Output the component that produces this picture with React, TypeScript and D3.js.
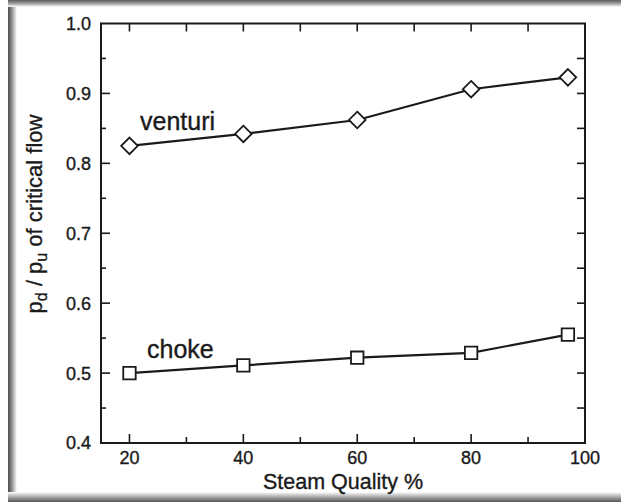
import React from "react";
import * as d3 from "d3";

const quality = [20, 40, 60, 80, 97];
const venturi = [0.825, 0.842, 0.862, 0.906, 0.923];
const choke = [0.5, 0.511, 0.522, 0.529, 0.555];
const xTickLabels = [20, 40, 60, 80, 100];
const xMinorTicks = [20, 30, 40, 50, 60, 70, 80, 90];
const yTickLabels = [0.4, 0.5, 0.6, 0.7, 0.8, 0.9, 1.0];
const yMinorTicks = [0.45, 0.5, 0.55, 0.6, 0.65, 0.7, 0.75, 0.8, 0.85, 0.9, 0.95];
const seriesNames = ["venturi", "choke"];

const W = 621;
const H = 502;
const FONT = "'Liberation Sans', Arial, Helvetica, sans-serif";
const INK = "#1a1a1a";

export default function App() {
  const x = d3.scaleLinear().domain([15, 100]).range([101, 585]);
  const y = d3.scaleLinear().domain([0.4, 1.0]).range([443, 23.5]);
  const line = d3
    .line<number>()
    .x((_, i) => x(quality[i]))
    .y((d) => y(d));

  const diamond = d3.symbol().type(d3.symbolDiamond2).size(175)();
  const square = d3.symbol().type(d3.symbolSquare).size(155)();

  const [x0, x1] = x.range();
  const [y0, y1] = y.range();
  const textStroke = { stroke: INK, strokeWidth: 0.35 };

  return (
    <svg
      width={W}
      height={H}
      style={{ position: "absolute", left: 0, top: 0, background: "#fff" }}
      fontFamily={FONT}
    >
      <defs>
        <linearGradient id="gl" x1="0" x2="1" y1="0" y2="0">
          <stop offset="0" stopColor="#4a4a4a" />
          <stop offset="0.4" stopColor="#8a8a8a" />
          <stop offset="1" stopColor="#ffffff" />
        </linearGradient>
        <linearGradient id="gt" x1="0" x2="0" y1="0" y2="1">
          <stop offset="0" stopColor="#5a5a5a" />
          <stop offset="0.5" stopColor="#a0a0a0" />
          <stop offset="1" stopColor="#ffffff" />
        </linearGradient>
        <linearGradient id="gb" x1="0" x2="0" y1="0" y2="1">
          <stop offset="0" stopColor="#ffffff" />
          <stop offset="0.5" stopColor="#a8a8a8" />
          <stop offset="1" stopColor="#555555" />
        </linearGradient>
      </defs>
      <rect x={0} y={0} width={W} height={H} fill="#fff" />
      <rect x={8} y={0} width={9} height={H} fill="url(#gl)" />
      <rect x={8} y={0} width={W - 8} height={7} fill="url(#gt)" />
      <rect x={8} y={492} width={W - 8} height={10} fill="url(#gb)" />

      {/* frame */}
      <rect
        x={x0}
        y={y1}
        width={x1 - x0}
        height={y0 - y1}
        fill="none"
        stroke={INK}
        strokeWidth={2}
      />

      {/* bottom & top ticks */}
      {xMinorTicks.map((t) => {
        const major = t % 20 === 0;
        return (
          <g key={"xt" + t}>
            <line x1={x(t)} x2={x(t)} y1={y0} y2={y0 - (major ? 9 : 6)} stroke={INK} strokeWidth={1.6} />
            <line x1={x(t)} x2={x(t)} y1={y1} y2={y1 + 8} stroke={INK} strokeWidth={1.6} />
          </g>
        );
      })}
      {/* left & right ticks */}
      {yMinorTicks.map((t) => {
        const major = Math.abs(Math.round(t * 10) - t * 10) < 1e-6;
        return (
          <g key={"yt" + t}>
            <line x1={x0 - (major ? 0 : 1)} x2={x0 + (major ? 9 : 5)} y1={y(t)} y2={y(t)} stroke={INK} strokeWidth={1.6} />
            <line x1={x1} x2={x1 - 8} y1={y(t)} y2={y(t)} stroke={INK} strokeWidth={1.6} />
          </g>
        );
      })}

      {/* tick labels */}
      {yTickLabels.map((t) => (
        <text
          key={"yl" + t}
          x={x0 - 10}
          y={y(t)}
          dy="0.36em"
          textAnchor="end"
          fontSize={18}
          fill={INK}
          {...textStroke}
        >
          {t.toFixed(1)}
        </text>
      ))}
      {xTickLabels.map((t) => (
        <text key={"xl" + t} x={x(t)} y={464} textAnchor="middle" fontSize={18} fill={INK} {...textStroke}>
          {t}
        </text>
      ))}

      {/* axis titles */}
      <text x={(x0 + x1) / 2} y={489} textAnchor="middle" fontSize={21.5} fill={INK} {...textStroke}>
        Steam Quality %
      </text>
      <text
        transform={`translate(42,214) rotate(-90)`}
        textAnchor="middle"
        fontSize={22}
        fill={INK}
        {...textStroke}
      >
        p<tspan fontSize={16} dy={5}>d</tspan>
        <tspan dy={-5}> / p</tspan>
        <tspan fontSize={16} dy={5}>u</tspan>
        <tspan dy={-5}> of critical flow</tspan>
      </text>

      {/* series */}
      <path d={line(venturi) || ""} fill="none" stroke={INK} strokeWidth={2.2} />
      <path d={line(choke) || ""} fill="none" stroke={INK} strokeWidth={2.2} />
      {venturi.map((v, i) => (
        <path
          key={"v" + i}
          d={diamond || ""}
          transform={`translate(${x(quality[i])},${y(v)})`}
          fill="#fff"
          stroke={INK}
          strokeWidth={1.8}
        />
      ))}
      {choke.map((v, i) => (
        <path
          key={"c" + i}
          d={square || ""}
          transform={`translate(${x(quality[i])},${y(v)})`}
          fill="#fff"
          stroke={INK}
          strokeWidth={1.8}
        />
      ))}

      {/* series labels */}
      <text x={140} y={130} fontSize={25} fill={INK} {...textStroke}>
        {seriesNames[0]}
      </text>
      <text x={147} y={358} fontSize={25} fill={INK} {...textStroke}>
        {seriesNames[1]}
      </text>
    </svg>
  );
}
